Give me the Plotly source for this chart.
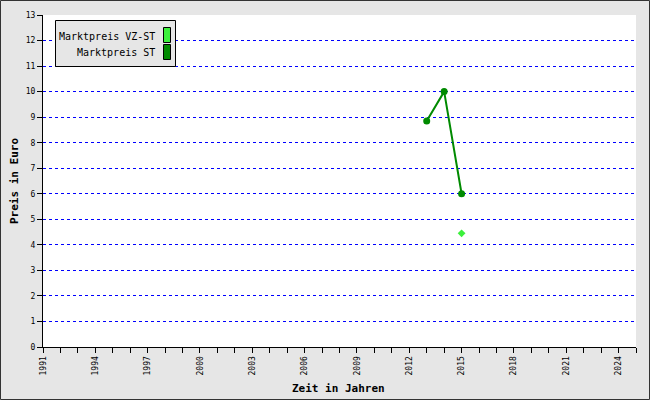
import plotly.graph_objects as go

# Data
years_st = [2013, 2014, 2015]
price_st = [8.85, 10.0, 6.0]
years_vz = [2015]
price_vz = [4.45]
legend_names = ["Marktpreis VZ-ST", "Marktpreis ST"]
x_tickvals = list(range(1991, 2025, 3))

W, H = 650, 400
L, R, T, B = 43, 14, 15, 53
PW, PH = W - L - R, H - T - B

def px(x):
    return (x - L) / PW

def py(y):
    return 1 - (y - T) / PH

C_ST = "#008a00"
C_VZ = "#3cf03c"
MONO = "DejaVu Sans Mono, Liberation Mono, monospace"

fig = go.Figure()
fig.add_trace(go.Scatter(x=years_st, y=price_st, mode="lines+markers", name=legend_names[1],
                         line=dict(color=C_ST, width=2),
                         marker=dict(color=C_ST, size=7, symbol="circle"), showlegend=False))
fig.add_trace(go.Scatter(x=years_vz, y=price_vz, mode="markers", name=legend_names[0],
                         marker=dict(color=C_VZ, size=6, symbol="diamond"), showlegend=False))

shapes = []
annotations = []
# outer border
shapes.append(dict(type="rect", xref="paper", yref="paper",
                   x0=px(0.5), x1=px(649.5), y0=py(0.5), y1=py(399.5),
                   line=dict(color="#333333", width=1), fillcolor="rgba(0,0,0,0)", layer="below"))
# legend box
shapes.append(dict(type="rect", xref="paper", yref="paper",
                   x0=px(55.5), x1=px(175.5), y0=py(20.5), y1=py(66.5),
                   line=dict(color="black", width=1), fillcolor="#e6e6e6"))
swatch = [(C_VZ, 27, 43), (C_ST, 44, 60)]
for (c, y0, y1) in swatch:
    shapes.append(dict(type="rect", xref="paper", yref="paper",
                       x0=px(163.5), x1=px(170.5), y0=py(y0 + 0.5), y1=py(y1 - 0.5),
                       line=dict(color="black", width=1), fillcolor=c))
for name, yc in zip(legend_names, [36.5, 53]):
    annotations.append(dict(xref="paper", yref="paper", x=px(157), y=py(yc),
                            text=name, showarrow=False, xanchor="right", yanchor="middle",
                            font=dict(family=MONO, size=10, color="black")))
# axis titles
annotations.append(dict(xref="paper", yref="paper", x=px(338), y=py(388),
                        text="<b>Zeit in Jahren</b>", showarrow=False, xanchor="center", yanchor="middle",
                        font=dict(family=MONO, size=11, color="black")))
annotations.append(dict(xref="paper", yref="paper", x=px(14), y=py(181),
                        text="<b>Preis in Euro</b>", showarrow=False, xanchor="center", yanchor="middle",
                        textangle=-90, font=dict(family=MONO, size=11, color="black")))

fig.update_layout(
    width=W, height=H,
    margin=dict(l=L, r=R, t=T, b=B, autoexpand=False),
    paper_bgcolor="#e6e6e6", plot_bgcolor="white",
    shapes=shapes, annotations=annotations,
    xaxis=dict(range=[1991, 2025], tickmode="array", tickvals=x_tickvals,
               ticktext=[str(v) for v in x_tickvals], tickangle=-90,
               ticks="outside", ticklen=5, tickcolor="black", tickwidth=1,
               showline=True, linecolor="black", linewidth=1, showgrid=False, zeroline=False,
               minor=dict(tick0=1991, dtick=1, ticks="outside", ticklen=5, tickcolor="black", tickwidth=1, showgrid=False),
               tickfont=dict(family=MONO, size=8, color="black"), automargin=False),
    yaxis=dict(range=[0, 13], dtick=1, tick0=0,
               ticks="outside", ticklen=5, tickcolor="black", tickwidth=1,
               showline=True, linecolor="black", linewidth=1, zeroline=False,
               showgrid=True, gridcolor="blue", griddash="dot", gridwidth=1,
               tickfont=dict(family=MONO, size=8, color="black"), automargin=False),
    font=dict(family=MONO),
)

fig.write_html("out.html", config={"displayModeBar": False},
               post_script="document.body.style.margin='0';document.body.style.overflow='hidden';")
